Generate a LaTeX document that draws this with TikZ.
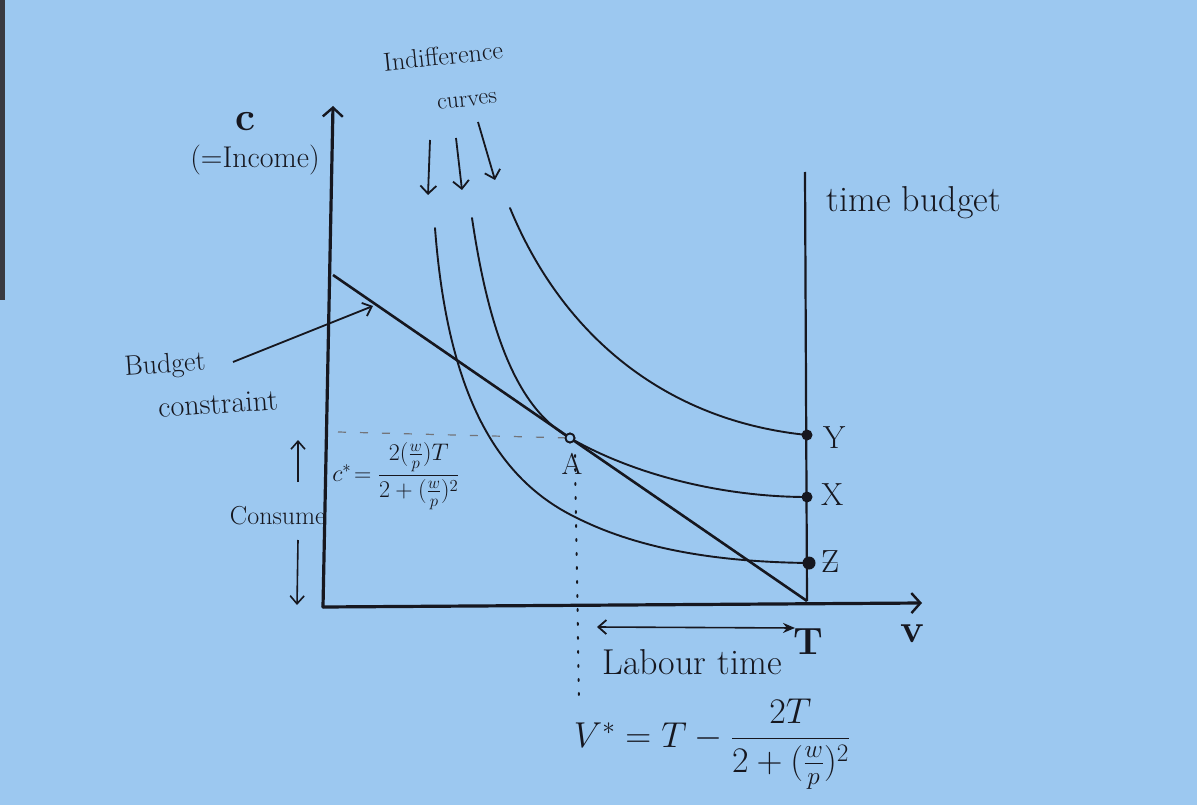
\RequirePackage{fix-cm}
\documentclass[tikz,border=0pt]{standalone}
\usepackage{amsmath}
\usetikzlibrary{arrows.meta}
\definecolor{paper}{HTML}{9CC8F0}
\definecolor{ink}{HTML}{16171F}
\tikzset{
  axis/.style={draw=ink, line width=3.2pt, line cap=round},
  curve/.style={draw=ink, line width=1.9pt, line cap=round},
  barb/.style={-{Straight Barb[length=9pt,width=20pt,line width=2.4pt]}},
  hand/.style={text=ink, inner sep=1pt},
  dot/.style={circle, fill=ink, inner sep=0pt, minimum size=11pt},
  fs/.style={font=\fontsize{#1}{#1}\selectfont},
  fsb/.style={font=\fontsize{#1}{#1}\selectfont\bfseries}
}
\begin{document}
\begin{tikzpicture}[x=1pt,y=-1pt]
\fill[paper] (0,0) rectangle (1197,805);
\useasboundingbox (0,0) rectangle (1197,805);
\fill[ink!85] (0,0) rectangle (5,300);
% coordinates
\coordinate (O) at (323,607);
\coordinate (Ytop) at (333,106);
\coordinate (Xend) at (922,603);
\coordinate (TBtop) at (805,172);
\coordinate (Tpt) at (807,601);
\coordinate (BCtop) at (333,275);
% axes
\draw[axis, barb] (O) -- (Ytop);
\draw[axis, barb] (O) -- (Xend);
\draw[ink, line width=2.2pt] (TBtop) -- (Tpt);
% budget constraint
\draw[ink, line width=2.6pt] (BCtop) -- (Tpt);
% dots
\node[dot] (Ydot) at (807,435) {};
\node[dot] (Xdot) at (807,497) {};
\node[dot, minimum size=13pt] (Zdot) at (809,563) {};
\node[circle, draw=ink, line width=1.8pt, fill=paper, inner sep=0pt, minimum size=9pt] (A) at (570,438) {};
% indifference curves
\draw[curve] (435,228) .. controls (448,400) and (500,480) .. (575,517)
  .. controls (640,550) and (720,562) .. (Zdot.center);
\draw[curve] (472,218) .. controls (490,340) and (520,410) .. (A.center)
  .. controls (640,478) and (730,497) .. (Xdot.center);
\draw[curve] (510,208) .. controls (560,330) and (660,420) .. (Ydot.center);
\node[circle, draw=ink, line width=1.8pt, fill=paper, inner sep=0pt, minimum size=9pt] at (A) {};
% guide lines
\draw[ink!60, line width=1.2pt, dash pattern=on 8pt off 14pt] (338,432) -- (A);
\draw[ink, line width=2pt, dash pattern=on 2pt off 12pt, line cap=round] (575,455) -- (579,700);
% labour time arrow
\coordinate (LTa) at (597,627);
\coordinate (LTb) at (795,628);
\draw[ink, line width=1.6pt, {Straight Barb[length=8pt,width=14pt,line width=1.8pt]}-{Stealth[length=12pt,width=10pt]}] (LTa) -- (LTb);
% indifference arrows
\coordinate (i1a) at (430,140); \coordinate (i1b) at (428,195);
\coordinate (i2a) at (456,138); \coordinate (i2b) at (462,190);
\coordinate (i3a) at (478,122); \coordinate (i3b) at (495,180);
\foreach \a/\b in {i1a/i1b,i2a/i2b,i3a/i3b}
  \draw[ink, line width=1.8pt, -{Straight Barb[length=8pt,width=16pt,line width=1.8pt]}] (\a) -- (\b);
% budget constraint pointer
\coordinate (BCp) at (233,362);
\coordinate (BCq) at (373,306);
\draw[ink, line width=1.8pt, -{Straight Barb[length=8pt,width=14pt,line width=1.8pt]}] (BCp) -- (BCq);
% consume arrows
\coordinate (cu1) at (298,482); \coordinate (cu2) at (298,440);
\coordinate (cd1) at (298,540); \coordinate (cd2) at (297,605);
\draw[ink, line width=1.6pt, -{Straight Barb[length=8pt,width=14pt,line width=1.6pt]}] (cu1) -- (cu2);
\draw[ink, line width=1.6pt, -{Straight Barb[length=8pt,width=14pt,line width=1.6pt]}] (cd1) -- (cd2);
% labels
\node[hand, fsb=40pt] (lC) at (245,122) {c};
\node[hand, fs=30pt] (lInc) at (255,160) {(=Income)};
\node[hand, fs=26pt, rotate=6] (lInd) at (443,56) {Indifference};
\node[hand, fs=24pt, rotate=6] (lCur) at (467,101) {curves};
\node[hand, fs=36pt] (lTB) at (914,203) {time budget};
\node[hand, fs=28pt, rotate=4] (lBud) at (165,366) {Budget};
\node[hand, fs=30pt, rotate=4] (lCon) at (218,404) {constraint};
\node[hand, fs=26pt, anchor=east] (lCons) at (327,516) {Consume};
\node[hand, fs=30pt] (lA) at (572,464) {A};
\node[hand, fs=32pt, anchor=west] (lY) at (822,438) {Y};
\node[hand, fs=32pt, anchor=west] (lX) at (820,495) {X};
\node[hand, fs=32pt, anchor=west] (lZ) at (820,562) {\ooalign{Z\cr\hidewidth\raisebox{0.05em}{--}\hidewidth}};
\node[hand, fsb=38pt] (lT) at (808,642) {T};
\node[hand, fsb=40pt] (lV) at (912,634) {v};
\node[hand, fs=36pt] (lLab) at (692,662) {Labour time};
\node[hand, fs=24pt] (fc) at (396,476) {$c^{*}\!=\dfrac{2(\frac{w}{p})T}{2+(\frac{w}{p})^{2}}$};
\node[hand, fs=36pt] (fv) at (712,744) {$V^{*}= T-\dfrac{2T}{2+(\frac{w}{p})^{2}}$};
\end{tikzpicture}
\end{document}
